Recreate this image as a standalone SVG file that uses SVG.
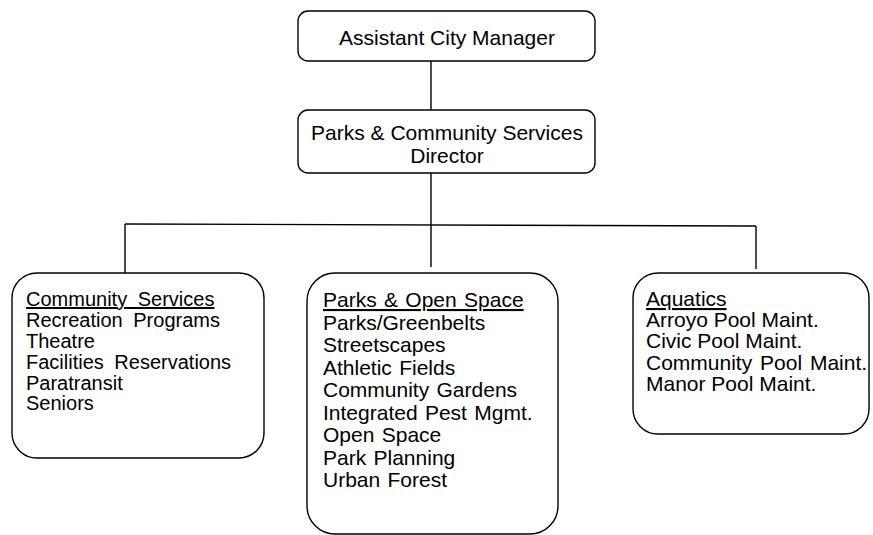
<svg xmlns="http://www.w3.org/2000/svg" width="873" height="535" viewBox="0 0 873 535">
  <style>
    .box { fill: #ffffff; stroke: #000000; stroke-width: 1.4; }
    .wire { fill: none; stroke: #000000; stroke-width: 1.4; }
    text { font-family: "Liberation Sans", Arial, sans-serif; font-size: 21px; fill: #000000; }
    .mid { text-anchor: middle; }
    .head { text-decoration: underline; }
    #community-services text { font-size: 20px; word-spacing: 5px; }
    #parks-open-space text { word-spacing: 1.5px; }
  </style>
  <rect width="873" height="535" fill="#ffffff"/>

  <!-- reporting lines -->
  <g id="connectors">
    <line class="wire" x1="431" y1="61" x2="431" y2="110"/>
    <line class="wire" x1="431" y1="173" x2="431" y2="267"/>
    <line class="wire" x1="125" y1="224" x2="756" y2="226"/>
    <line class="wire" x1="125" y1="224" x2="125" y2="273"/>
    <line class="wire" x1="756" y1="226" x2="756" y2="269"/>
  </g>

  <g id="assistant-city-manager">
    <rect class="box" x="298" y="11" width="297" height="50" rx="10"/>
    <text class="mid" x="447" y="45">Assistant City Manager</text>
  </g>

  <g id="director">
    <rect class="box" x="298" y="110" width="297" height="63" rx="10"/>
    <text class="mid" x="447" y="140">Parks &amp; Community Services</text>
    <text class="mid" x="447" y="163">Director</text>
  </g>

  <g id="community-services">
    <rect class="box" x="12" y="273" width="252" height="185" rx="25"/>
    <text x="26" y="306" class="head">Community Services</text>
    <text x="26" y="327">Recreation Programs</text>
    <text x="26" y="348">Theatre</text>
    <text x="26" y="368.5">Facilities Reservations</text>
    <text x="26" y="389.5">Paratransit</text>
    <text x="26" y="410">Seniors</text>
  </g>

  <g id="parks-open-space">
    <rect class="box" x="307" y="273" width="251" height="261" rx="28"/>
    <text x="323" y="307" class="head">Parks &amp; Open Space</text>
    <text x="323" y="329.5">Parks/Greenbelts</text>
    <text x="323" y="352">Streetscapes</text>
    <text x="323" y="374.5">Athletic Fields</text>
    <text x="323" y="397">Community Gardens</text>
    <text x="323" y="419.5">Integrated Pest Mgmt.</text>
    <text x="323" y="442">Open Space</text>
    <text x="323" y="464.5">Park Planning</text>
    <text x="323" y="487">Urban Forest</text>
  </g>

  <g id="aquatics">
    <rect class="box" x="633" y="273" width="236" height="161" rx="25"/>
    <text x="646" y="306" class="head">Aquatics</text>
    <text x="646" y="327">Arroyo Pool Maint.</text>
    <text x="646" y="348">Civic Pool Maint.</text>
    <text x="646" y="370" word-spacing="2">Community Pool Maint.</text>
    <text x="646" y="391">Manor Pool Maint.</text>
  </g>
</svg>
